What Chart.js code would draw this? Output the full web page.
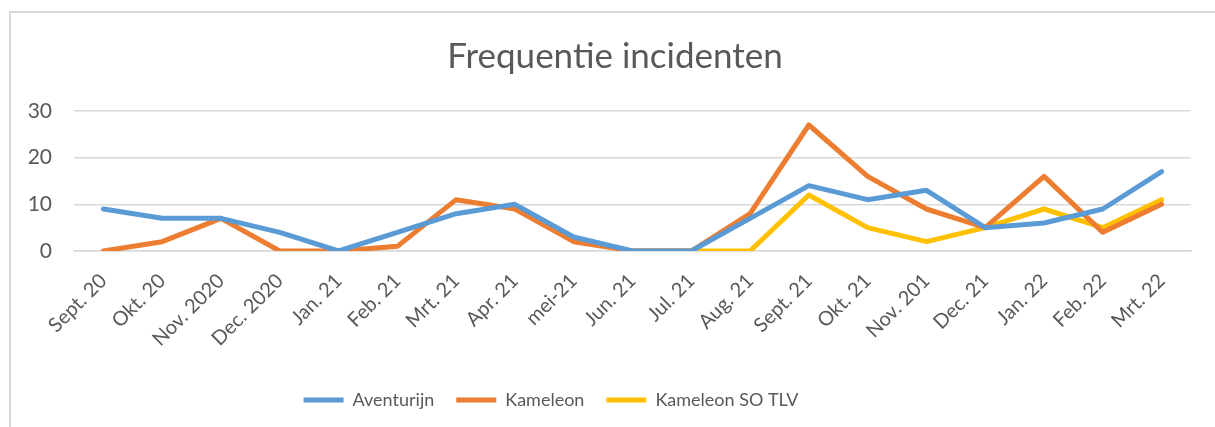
<!DOCTYPE html>
<html>
<head>
<meta charset="utf-8">
<script src="https://cdn.jsdelivr.net/npm/chart.js@4"></script>
<style>
    html, body { margin: 0; padding: 0; background: #fff; }
    body { width: 1215px; height: 427px; overflow: hidden; position: relative; }
    #frame {
        position: absolute; left: 9px; top: 11px; width: 1204px; height: 414px;
        border-top: 2px solid #d9d9d9; border-left: 2px solid #d9d9d9;
    }
    #frame canvas { display: block; }
</style>
</head>
<body>
<div id="frame"><canvas id="incidentChart" width="1204" height="414"></canvas></div>
<script>
// Months shown on the x axis (labels kept as in the source sheet)
const months = ['Sept. 20', 'Okt. 20', 'Nov. 2020', 'Dec. 2020', 'Jan. 21', 'Feb. 21', 'Mrt. 21',
                'Apr. 21', 'mei-21', 'Jun. 21', 'Jul. 21', 'Aug. 21', 'Sept. 21', 'Okt. 21',
                'Nov. 201', 'Dec. 21', 'Jan. 22', 'Feb. 22', 'Mrt. 22'];

const aventurijn    = [9, 7, 7, 4, 0, 4, 8, 10, 3, 0, 0, 7, 14, 11, 13, 5, 6, 9, 17];
const kameleon      = [0, 2, 7, 0, 0, 1, 11, 9, 2, 0, 0, 8, 27, 16, 9, 5, 16, 4, 10];
const kameleonSoTlv = [null, null, null, null, null, null, null, null, null, 0, 0, 0, 12, 5, 2, 5, 9, 5, 11];

const yTicks = [0, 10, 20, 30];

const textColor = '#595959';
const gridColor = '#d9d9d9';
const fontFamily = 'Lato, Carlito, "Open Sans", sans-serif';

function lineSet(label, data, color) {
    return {
        label: label,
        data: data,
        borderColor: color,
        backgroundColor: color,
        borderWidth: 5,
        borderJoinStyle: 'round',
        borderCapStyle: 'round',
        pointRadius: 0,
        pointHoverRadius: 0,
        tension: 0,
        spanGaps: false
    };
}

// nudge title and legend to where the original has them
const blockShift = {
    id: 'blockShift',
    afterLayout(chart) {
        chart.legend.left -= 50;
        chart.legend.right -= 50;
        chart.titleBlock.left += 14;
        chart.titleBlock.right += 14;
    }
};

const ctx = document.getElementById('incidentChart').getContext('2d');
new Chart(ctx, {
    type: 'line',
    data: {
        labels: months,
        datasets: [
            lineSet('Aventurijn', aventurijn, '#5B9BD5'),
            lineSet('Kameleon', kameleon, '#ED7D31'),
            lineSet('Kameleon SO TLV', kameleonSoTlv, '#FFC000')
        ]
    },
    plugins: [blockShift],
    options: {
        responsive: false,
        animation: false,
        layout: { padding: { left: 0, right: 24, top: 0, bottom: 8 } },
        plugins: {
            title: {
                display: true,
                text: 'Frequentie incidenten',
                color: textColor,
                font: { family: fontFamily, size: 35, weight: 'normal' },
                padding: { top: 23, bottom: 33 }
            },
            legend: {
                position: 'bottom',
                labels: {
                    color: textColor,
                    font: { family: fontFamily, size: 18 },
                    usePointStyle: true,
                    pointStyle: 'line',
                    pointStyleWidth: 40,
                    padding: 22
                }
            },
            tooltip: { enabled: false }
        },
        scales: {
            x: {
                offset: true,
                grid: { display: false, drawTicks: false },
                border: { display: true, color: gridColor, width: 1.5 },
                ticks: {
                    color: textColor,
                    font: { family: fontFamily, size: 20 },
                    maxRotation: 45,
                    minRotation: 45,
                    autoSkip: false,
                    padding: 18,
                    labelOffset: 0
                },
                afterFit: function(scale) { scale.height = 118; }
            },
            y: {
                min: 0,
                max: 30,
                afterBuildTicks: function(scale) {
                    scale.ticks = yTicks.map(v => ({ value: v }));
                },
                grid: { color: gridColor, lineWidth: 1.5, drawTicks: false },
                border: { display: false },
                ticks: {
                    color: textColor,
                    font: { family: fontFamily, size: 21 },
                    padding: 22
                },
                afterFit: function(scale) { scale.width = 63; }
            }
        }
    }
});
</script>
</body>
</html>
